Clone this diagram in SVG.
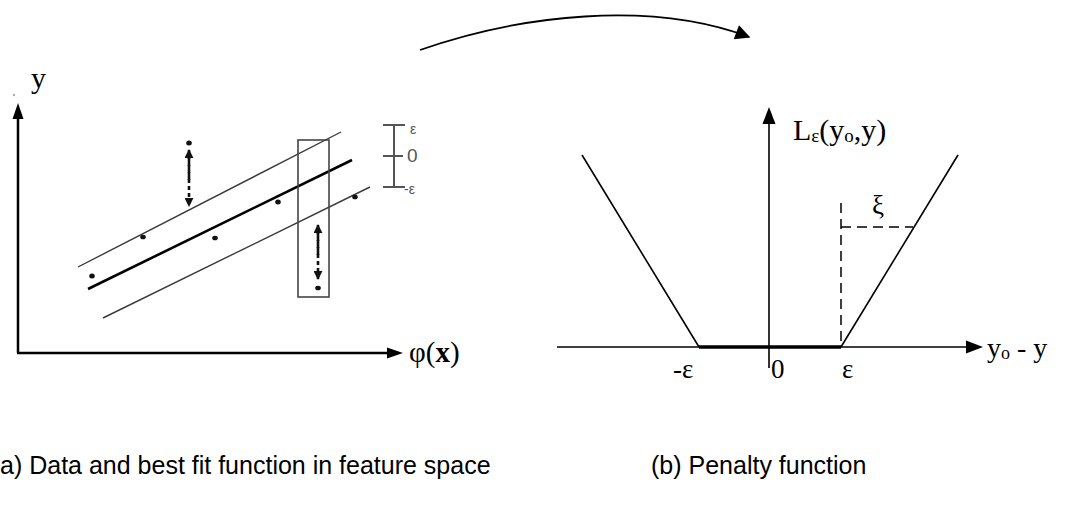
<svg xmlns="http://www.w3.org/2000/svg" width="1073" height="510" viewBox="0 0 1073 510">
<style>
.serif{font-family:"Liberation Serif","Times New Roman",serif;fill:#000}
.sans{font-family:"Liberation Sans",Arial,sans-serif;fill:#000}
.thin{stroke:#3a3a3a;stroke-width:1.4;fill:none}
.ax{stroke:#000;fill:none}
.dot{fill:#111}
.dash{stroke:#111;stroke-width:2.6;stroke-dasharray:4,3;fill:none}
.epsl{font-family:"Liberation Sans",Arial,sans-serif;fill:#555}
</style>
<defs>
<marker id="ah" viewBox="0 0 10 10" refX="9" refY="5" markerWidth="9" markerHeight="9" markerUnits="userSpaceOnUse" orient="auto">
<path d="M0,0 L10,5 L0,10 z" fill="#111"/>
</marker>
<marker id="big" viewBox="0 0 10 10" refX="9" refY="5" markerWidth="17" markerHeight="15" markerUnits="userSpaceOnUse" orient="auto">
<path d="M0,0 L10,5 L0,10 z" fill="#000"/>
</marker>
</defs>

<g id="panel-a">
  <g id="axes-a">
    <line class="ax" x1="18" y1="353" x2="18" y2="118" stroke-width="2.5"/>
    <path d="M18,103 L12.5,119 L23.5,119 z" fill="#000"/>
    <line class="ax" x1="17" y1="353" x2="388" y2="353" stroke-width="2.5"/>
    <path d="M403,353 L387,347.5 L387,358.5 z" fill="#000"/>
    <circle cx="14" cy="95" r="1.2" fill="#aaa"/>
    <text class="serif" x="31" y="88" font-size="30">y</text>
    <text class="serif" x="409" y="362" font-size="29">φ(<tspan font-weight="bold">x</tspan>)</text>
  </g>
  <g id="fit-lines">
    <line class="thin" x1="78" y1="267" x2="341" y2="132"/>
    <line x1="88" y1="289" x2="352" y2="160" stroke="#000" stroke-width="2.6"/>
    <line class="thin" x1="103" y1="318" x2="370" y2="187"/>
    <rect x="298" y="140" width="31" height="157" fill="none" stroke="#444" stroke-width="1.6"/>
  </g>
  <g id="points">
    <ellipse class="dot" cx="92" cy="276" rx="2.8" ry="2.5"/>
    <ellipse class="dot" cx="143" cy="237" rx="2.8" ry="2.3"/>
    <ellipse class="dot" cx="215" cy="238" rx="2.8" ry="2.3"/>
    <ellipse class="dot" cx="278" cy="202" rx="2.8" ry="2.5"/>
    <ellipse class="dot" cx="355" cy="197" rx="2.8" ry="2.3"/>
    <ellipse class="dot" cx="318" cy="288" rx="2.8" ry="2.3"/>
    <ellipse class="dot" cx="189" cy="143" rx="2.8" ry="2.5"/>
  </g>
  <g id="slack-arrows">
    <line class="dash" x1="189" y1="180" x2="189" y2="150" marker-end="url(#ah)"/>
    <line class="dash" x1="189" y1="158" x2="189" y2="206" marker-end="url(#ah)"/>
    <line class="dash" x1="318" y1="255" x2="318" y2="225" marker-end="url(#ah)"/>
    <line class="dash" x1="318" y1="233" x2="318" y2="279" marker-end="url(#ah)"/>
  </g>
  <g id="eps-bar" stroke="#555" stroke-width="2">
    <line x1="394" y1="125" x2="394" y2="187"/>
    <line x1="383" y1="125" x2="405" y2="125"/>
    <line x1="383" y1="156" x2="403" y2="156"/>
    <line x1="383" y1="187" x2="405" y2="187"/>
  </g>
  <g id="eps-labels">
    <text class="epsl" x="410" y="134" font-size="14">ε</text>
    <text class="epsl" x="407" y="162" font-size="19">0</text>
    <text class="epsl" x="404" y="194" font-size="14">-ε</text>
  </g>
</g>

<g id="panel-b">
  <g id="axes-b">
    <line class="ax" x1="557" y1="347" x2="968" y2="347" stroke-width="1.6"/>
    <path d="M983,347 L966,340.5 L966,353.5 z" fill="#000"/>
    <line class="ax" x1="769" y1="368" x2="769" y2="122" stroke-width="1.6"/>
    <path d="M769,107 L762.5,124 L775.5,124 z" fill="#000"/>
  </g>
  <g id="penalty">
    <line x1="582" y1="155" x2="699" y2="347" stroke="#000" stroke-width="1.6"/>
    <line x1="699" y1="347" x2="841" y2="347" stroke="#000" stroke-width="3.4"/>
    <line x1="841" y1="347" x2="958" y2="155" stroke="#000" stroke-width="1.6"/>
    <line x1="841" y1="203" x2="841" y2="347" stroke="#000" stroke-width="1.5" stroke-dasharray="10,6"/>
    <line x1="841" y1="227" x2="913" y2="227" stroke="#000" stroke-width="1.5" stroke-dasharray="10,6"/>
  </g>
  <g id="labels-b">
    <text class="serif" x="793" y="140" font-size="30">L<tspan font-size="19" dy="2">ε</tspan><tspan dy="-2">(y</tspan><tspan font-size="19" dy="2">o</tspan><tspan dy="-2">,y)</tspan></text>
    <text class="serif" x="872" y="214" font-size="27">ξ</text>
    <text class="serif" x="673" y="378" font-size="27">-ε</text>
    <text class="serif" x="771" y="378" font-size="27">0</text>
    <text class="serif" x="842" y="378" font-size="27">ε</text>
    <text class="serif" x="987" y="357" font-size="28">y<tspan font-size="18" dy="2">o</tspan><tspan dy="-2"> - y</tspan></text>
  </g>
</g>

<g id="connectors">
  <path d="M420,50 C520,15 650,0 749,37" fill="none" stroke="#000" stroke-width="1.8" marker-end="url(#big)"/>
</g>

<g id="captions">
  <text class="sans" x="0" y="474" font-size="25">a) Data and best fit function in feature space</text>
  <text class="sans" x="651" y="474" font-size="25">(b) Penalty function</text>
</g>
</svg>
